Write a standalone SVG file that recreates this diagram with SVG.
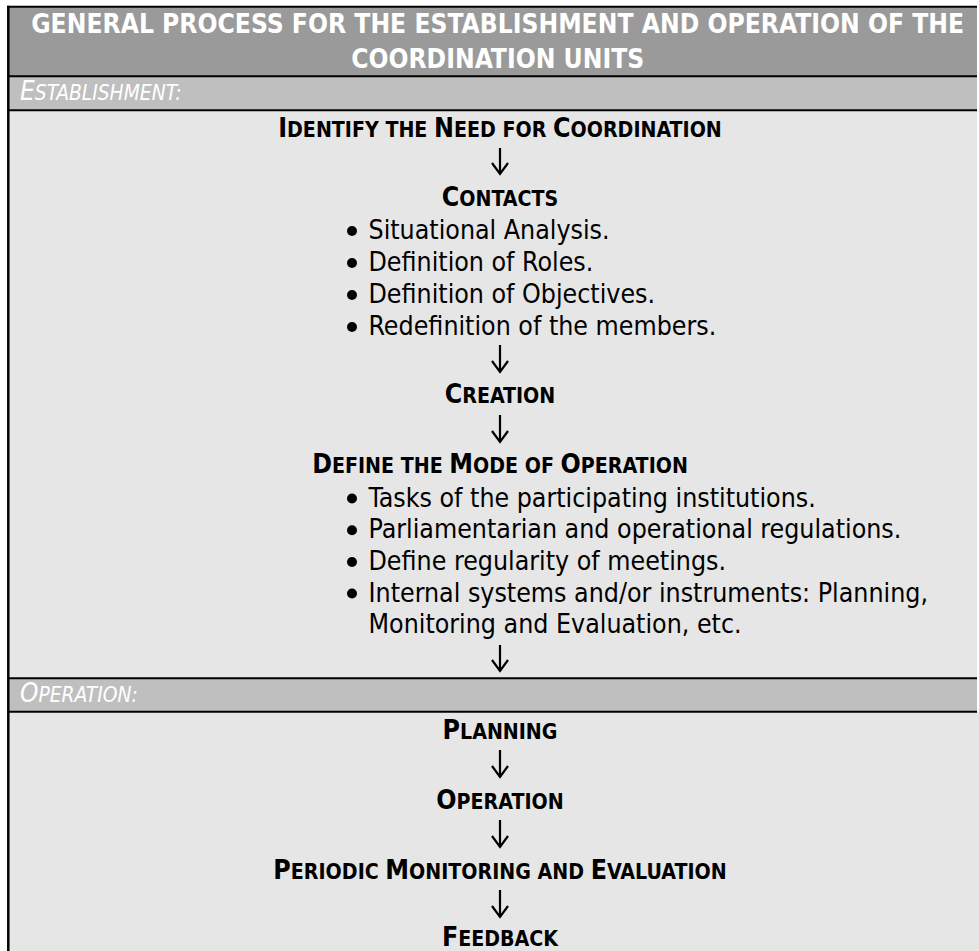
<svg xmlns="http://www.w3.org/2000/svg" width="979" height="951" viewBox="0 0 979 951">
  <defs>
    <style>
      .hd{font-family:"DejaVu Sans Condensed","DejaVu Sans",sans-serif;font-size:26.2px;font-weight:bold;fill:#ffffff;text-anchor:middle}
      .sec{font-family:"DejaVu Sans Condensed","DejaVu Sans",sans-serif;font-size:26px;font-style:italic;fill:#ffffff}
      .sec .sc{font-size:20.8px}
      .step{font-family:"DejaVu Sans Condensed","DejaVu Sans",sans-serif;font-size:26.5px;font-weight:bold;fill:#000000;text-anchor:middle}
      .step .sc{font-size:21.2px}
      .item{font-family:"DejaVu Sans Condensed","DejaVu Sans",sans-serif;font-size:26.5px;fill:#000000}
      .dot{fill:#000000}
      .rule{stroke:#000000;stroke-width:2;fill:none}
      .edge{stroke:#000000;stroke-width:2.5;fill:none}
      .arrow{stroke:#000000;stroke-width:2.2;fill:none;marker-end:url(#ah)}
    </style>
    <marker id="ah" viewBox="-14 -10 16 20" refX="0" refY="0" markerWidth="16" markerHeight="20" markerUnits="userSpaceOnUse" orient="auto" overflow="visible">
      <path d="M-11,-8 L0,0 L-11,8" fill="none" stroke="#000000" stroke-width="2.2"/>
    </marker>
  </defs>

  <!-- table background bands -->
  <g id="table">
    <rect x="8" y="7" width="969" height="69" fill="#9a9a9a"/>
    <rect x="8" y="76" width="969" height="34" fill="#bfbfbf"/>
    <rect x="8" y="110" width="969" height="568" fill="#e6e6e6"/>
    <rect x="8" y="678" width="969" height="34" fill="#bfbfbf"/>
    <rect x="8" y="712" width="971" height="239" fill="#e6e6e6"/>
    <path class="rule" d="M7,6.7 H977"/>
    <path class="rule" d="M8,76.3 H977"/>
    <path class="rule" d="M8,110.3 H977"/>
    <path class="rule" d="M8,678.3 H977"/>
    <path class="rule" d="M8,711.7 H977"/>
    <path class="edge" d="M8.3,5.7 V951"/>
  </g>

  <!-- title -->
  <g id="title">
    <text class="hd" x="497.7" y="33">GENERAL PROCESS FOR THE ESTABLISHMENT AND OPERATION OF THE</text>
    <text class="hd" x="497.7" y="68">COORDINATION UNITS</text>
  </g>

  <!-- section labels -->
  <g id="sec-establishment">
    <text class="sec" x="20" y="100">E<tspan class="sc">STABLISHMENT:</tspan></text>
  </g>
  <g id="sec-operation">
    <text class="sec" x="20" y="702">O<tspan class="sc">PERATION:</tspan></text>
  </g>

  <!-- establishment steps -->
  <g id="step-identify">
    <text class="step" x="500" y="137.3">I<tspan class="sc">DENTIFY THE </tspan>N<tspan class="sc">EED FOR </tspan>C<tspan class="sc">OORDINATION</tspan></text>
  </g>

  <g id="step-contacts">
    <text class="step" x="500" y="206">C<tspan class="sc">ONTACTS</tspan></text>
    <circle class="dot" cx="352" cy="231" r="5"/>
    <text class="item" x="368.5" y="239">Situational Analysis.</text>
    <circle class="dot" cx="352" cy="263" r="5"/>
    <text class="item" x="368.5" y="271">Definition of Roles.</text>
    <circle class="dot" cx="352" cy="295" r="5"/>
    <text class="item" x="368.5" y="303">Definition of Objectives.</text>
    <circle class="dot" cx="352" cy="327" r="5"/>
    <text class="item" x="368.5" y="335">Redefinition of the members.</text>
  </g>

  <g id="step-creation">
    <text class="step" x="500" y="403.3">C<tspan class="sc">REATION</tspan></text>
  </g>

  <g id="step-mode">
    <text class="step" x="500" y="473.3">D<tspan class="sc">EFINE THE </tspan>M<tspan class="sc">ODE OF </tspan>O<tspan class="sc">PERATION</tspan></text>
    <circle class="dot" cx="352" cy="498.5" r="5"/>
    <text class="item" x="368.5" y="506.5">Tasks of the participating institutions.</text>
    <circle class="dot" cx="352" cy="530.3" r="5"/>
    <text class="item" x="368.5" y="538.3">Parliamentarian and operational regulations.</text>
    <circle class="dot" cx="352" cy="562" r="5"/>
    <text class="item" x="368.5" y="570">Define regularity of meetings.</text>
    <circle class="dot" cx="352" cy="593.5" r="5"/>
    <text class="item" x="368.5" y="601.5">Internal systems and/or instruments: Planning,</text>
    <text class="item" x="368.5" y="632.5">Monitoring and Evaluation, etc.</text>
  </g>

  <!-- operation steps -->
  <g id="step-planning">
    <text class="step" x="500" y="739">P<tspan class="sc">LANNING</tspan></text>
  </g>
  <g id="step-operation">
    <text class="step" x="500" y="809">O<tspan class="sc">PERATION</tspan></text>
  </g>
  <g id="step-monitoring">
    <text class="step" x="500" y="879">P<tspan class="sc">ERIODIC </tspan>M<tspan class="sc">ONITORING AND </tspan>E<tspan class="sc">VALUATION</tspan></text>
  </g>
  <g id="step-feedback">
    <text class="step" x="500" y="946">F<tspan class="sc">EEDBACK</tspan></text>
  </g>

  <!-- downward flow arrows -->
  <g id="connectors">
    <path class="arrow" d="M500,148 V174"/>
    <path class="arrow" d="M500,345 V372"/>
    <path class="arrow" d="M500,415 V442"/>
    <path class="arrow" d="M500,645 V671"/>
    <path class="arrow" d="M500,750 V777"/>
    <path class="arrow" d="M500,820 V847"/>
    <path class="arrow" d="M500,890 V917"/>
  </g>
</svg>
